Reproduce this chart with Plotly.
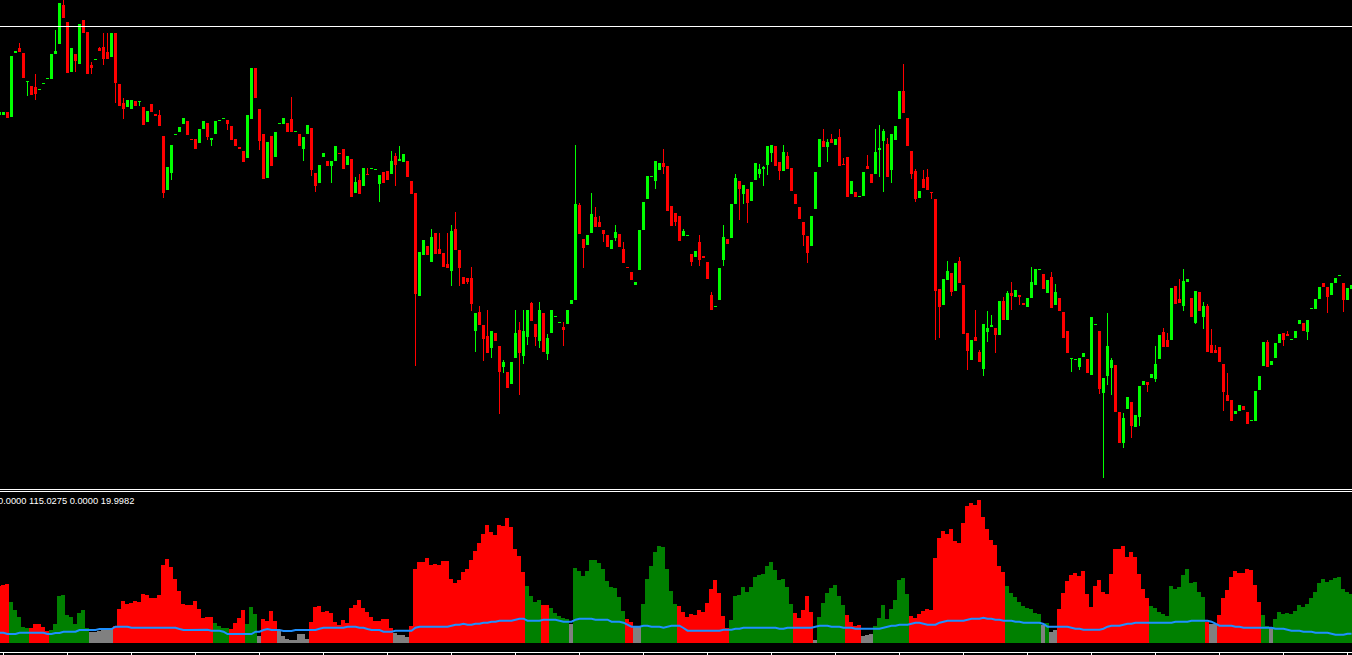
import plotly.graph_objects as go

# ---------------- data (price units) ----------------
open_ = [
    385,385,388,383,447,452,447,418,414,413, 410,416,421,421,446,456,495,478,428,446,
    436,480,468,435,440,452,453,448,443,467, 416,397,393,391,399,398,393,378,396,386,
    385,364,310,327,365,368,376,379,361,361, 357,371,377,360,366,379,381,380,374,361,
    353,349,342,381,432,391,366,322,364,343, 376,376,377,381,368,366,351,366,372,327,
    317,343,339,334,339,347,351,335,341,307, 320,314,326,331,330,316,328,329,326,344,
    339,338,339,319,307,204,245,254,238,267, 251,247,236,229,271,250,223,222,222,169,
    188,175,164,152,167,154,133,128,116,142, 170,144,163,197,176,159,187,146,167,183,
    177,173,176,196,200,295,261,255,267,283, 278,270,265,251,262,266,251,233,228,215,
    230,270,301,323,319,330,337,334,294,287, 284,264,264,246,243,258,244,238,205,193,
    200,240,261,262,296,319,306,311,299,320, 326,331,335,347,354,338,329,344,332,306,
    293,278,264,254,291,333,359,353,361,355, 363,336,343,306,308,303,304,334,326,326,
    350,359,356,330,360,381,409,382,349,329, 302,321,323,308,301,211,195,220,227,209,
    239,215,167,140,163,148,131,168,173,172, 165,199,180,207,203,205,197,193,202,215,
    230,226,207,223,195,202,188,169,141,140, 133,143,141,125,175,169,107,124,132,135,
    88,57,91,98,73,83,115,118,122,121, 141,168,160,160,214,201,194,218,202,177,
    208,183,194,155,150,153,136,105,100,86, 89,94,88,79,79,110,134,158,135,142,
    157,167,166,160,162,176,177,168,191,191, 201,217,213,205,217,224,217,200,211,
]
high_ = [
    388,388,388,444,449,457,447,419,414,426, 411,417,422,446,470,497,500,478,452,446,
    476,480,468,438,441,453,467,467,467,467, 416,402,400,400,399,399,393,389,396,386,
    390,364,333,355,366,373,382,379,361,361, 371,379,377,362,379,380,382,380,374,361,
    353,349,385,432,432,391,366,358,364,368, 377,382,377,403,369,366,363,375,372,327,
    335,347,339,339,354,347,351,344,341,323, 326,332,332,332,331,325,328,329,349,347,
    354,346,339,319,307,248,260,254,271,267, 267,247,267,275,288,250,223,222,233,187,
    194,175,190,169,167,154,140,128,138,190, 178,190,190,198,176,198,187,166,190,184,
    178,178,190,200,355,297,261,265,307,293, 284,270,265,260,275,266,258,233,228,218,
    270,298,324,324,339,337,351,334,294,287, 284,271,265,246,249,265,244,238,208,194,
    232,275,261,296,326,319,315,311,318,337, 336,334,354,355,354,338,355,348,332,306,
    293,278,264,284,328,361,371,361,366,361, 371,342,343,319,308,304,328,345,326,371,
    375,371,362,366,374,409,436,382,349,331, 309,330,331,308,301,211,221,239,227,237,
    243,215,167,160,190,150,176,189,185,172, 199,203,209,218,210,205,197,202,233,231,
    231,226,220,228,216,202,188,169,142,141, 142,147,141,183,176,169,122,187,142,135,
    88,87,103,98,85,114,119,118,126,154, 165,172,167,212,214,221,231,221,202,209,
    208,198,196,171,155,153,136,127,100,89, 95,94,88,80,109,124,158,160,139,157,
    166,167,169,161,169,180,177,180,192,201, 213,217,213,217,222,225,217,212,215,
]
low_ = [
    385,385,382,383,447,448,422,404,405,400, 410,416,421,421,446,456,482,427,428,428,
    436,467,426,426,440,449,435,441,443,397, 394,381,393,391,394,394,375,378,388,384,
    374,302,310,320,365,368,376,365,360,351, 357,371,360,354,366,379,381,370,360,354,
    351,338,342,381,402,350,321,322,334,343, 376,376,368,368,368,354,339,366,324,308,
    317,343,334,317,339,346,331,335,303,307, 306,314,325,331,330,298,317,320,326,314,
    339,338,323,306,134,204,245,245,238,246, 246,233,232,214,250,214,216,216,189,148,
    175,139,147,142,159,86,127,112,116,142, 105,136,155,179,154,152,148,140,167,183,
    177,154,176,196,200,266,232,255,267,273, 273,258,253,251,259,253,237,232,220,215,
    230,270,301,323,311,330,326,289,274,274, 259,264,264,234,243,234,242,221,190,193,
    200,234,256,262,296,280,296,277,299,320, 322,314,325,338,334,320,329,331,309,296,
    281,254,237,254,291,333,353,338,357,355, 334,335,303,306,303,303,304,331,317,326,
    323,308,323,317,360,381,387,354,321,298, 302,312,310,301,160,162,195,220,204,209,
    217,166,130,140,159,138,124,158,173,147, 165,180,180,190,203,195,195,193,202,215,
    230,211,207,192,195,189,162,147,128,140, 130,143,127,125,175,106,22,115,105,88,
    57,52,91,62,73,74,115,108,122,118, 141,153,153,160,196,197,189,218,183,176,
    189,171,148,147,147,138,89,99,79,86, 89,90,76,79,79,110,134,133,135,142,
    157,154,164,160,162,176,169,160,191,191, 201,213,187,205,217,224,188,200,211,
]
close_ = [
    388,388,382,444,449,448,422,419,405,406, 411,417,422,446,449,497,482,427,452,439,
    476,467,426,432,441,449,441,441,467,417, 394,391,400,400,394,399,375,389,388,384,
    374,307,333,355,366,373,382,365,360,351, 371,379,363,362,379,380,382,376,360,354,
    351,338,385,432,402,359,321,358,334,368, 377,382,368,368,369,354,363,375,330,314,
    335,347,334,339,354,346,331,344,303,318, 306,332,325,332,331,325,317,320,339,335,
    341,346,323,306,206,248,260,245,263,246, 246,233,232,269,250,232,216,218,196,187,
    175,161,147,169,159,128,138,112,138,167, 147,169,190,179,163,190,148,162,190,184,
    178,170,190,200,296,266,252,265,286,273, 273,266,253,260,268,253,237,232,220,218,
    270,298,324,324,339,337,333,289,274,278, 259,269,265,238,249,240,242,221,190,194,
    232,263,256,296,322,311,315,297,318,337, 331,333,354,355,334,329,348,331,309,296,
    281,265,247,284,328,361,353,358,357,361, 334,335,303,319,303,304,328,331,317,348,
    352,369,323,366,374,409,387,354,326,301, 309,312,310,307,209,193,221,229,208,237,
    217,166,149,160,159,138,176,172,175,165, 199,180,207,204,210,203,195,202,218,231,
    231,211,220,192,208,189,162,147,142,141, 142,147,127,183,176,111,122,154,140,88,
    57,82,103,74,85,114,119,115,126,136, 165,153,153,212,196,197,219,221,183,209,
    189,194,148,147,147,138,108,99,79,89, 95,90,76,80,109,124,158,133,139,157,
    166,160,164,161,169,180,169,180,192,201, 213,213,203,217,222,225,200,212,215,
]

# lower indicator: histogram values, their state (R = red, G = green, N = neutral) and the blue average
hist_ = [
    57,58,59,41,33,26,16,15,15,19, 19,16,12,13,19,47,48,28,26,19,
    30,33,15,11,11,12,13,13,14,17, 34,42,39,40,42,41,49,48,45,45,
    48,78,84,76,64,52,39,38,38,42, 34,25,26,26,20,17,15,15,14,20,
    25,33,19,36,29,7,24,22,32,22, 12,7,4,3,3,9,9,4,21,36,
    37,31,32,30,21,18,23,20,35,38, 43,35,31,26,22,22,24,24,15,10,
    8,8,6,17,74,81,81,85,78,79, 78,82,82,64,60,63,71,74,83,92,
    100,109,118,111,108,118,117,125,116,94, 87,71,57,47,41,43,38,38,35,30,
    27,25,24,19,75,72,67,72,83,83, 80,74,62,56,55,46,32,24,21,17,
    17,39,64,77,91,97,96,74,52,39, 37,31,26,29,28,33,31,40,54,63,
    50,27,15,23,47,48,56,51,56,66, 68,69,77,81,73,63,64,56,39,30,
    25,33,47,31,3,26,40,50,55,58, 47,38,28,21,17,18,7,8,9,17,
    25,38,24,34,43,63,65,49,27,25, 29,32,34,33,85,105,112,109,114,102,
    100,120,137,140,138,143,126,114,103,98, 77,71,57,50,46,41,37,35,34,30,
    29,18,20,11,13,34,50,62,68,70, 67,72,49,36,57,63,51,49,69,94,
    94,97,86,91,86,69,54,45,37,35, 31,29,27,57,54,56,68,74,60,61,
    51,46,21,19,19,28,45,53,66,72, 70,70,74,73,58,41,28,17,16,24,
    31,29,30,29,32,38,36,39,45,51, 60,64,61,63,65,66,54,51,49,
]
hist_state = "".join([
    "RRRGGGGGRR", "RRRGGGGGGG", "GGGNNNNNNR", "RRRRRRRRRR", "RRRRRRRRRR",
    "RRRRGGGGRR", "RRGGGNRRRR", "NNNNNNNNRR", "RRRRRRRRRR", "RRRRRRRRRN",
    "NNNRRRRRRR", "RRRRRRRRRR", "RRRRRRRRRR", "RRGGGGRRGG", "GGGNGGGGGG",
    "GGGGGGGRRN", "NGGGGGGGGG", "RRRRRRRRRR", "RRRGGGGGGG", "GGGGGGGGGR",
    "RRRRNGGGGG", "GGRRRRNNNG", "GGGGGGGGRR", "RRRRRRRRRR", "RRRRRRRRRR",
    "RRGGGGGGGG", "GNGNNRRRRR", "RRRRRRRRRR", "RRRRRRRRGG", "GGGGGGGGGG",
    "GGRNNRRRRR", "RRRRRRGGNG", "GGGGGGGGGG", "GGGGGGGGG",
])
ma_ = [
    10.3,10.3,9,9,9,10.3,10.3,10.3,10.3,10.3, 10.3,10.3,9,9,10,10,11.3,11.3,11.3,11.3,
    13,13,13,13,13,14,14,14,14,16.3, 16.3,16.3,16.3,15.3,15.3,15.3,15.3,15.3,15.3,15.3,
    15.3,15.3,15.3,15.3,15.3,14,13,13,13,13, 13,13.3,13.3,12.3,12.3,12.3,11.3,9,9,9,
    9,9,9,9,11.3,11.3,13,14,13,13, 13,12,12,12,13,13,13,13,13,13,
    14.3,15.3,15.3,15.3,15.3,15.3,15.3,16.3,16.3,16.3, 15.3,15.3,14,13,13,13,11.3,11.3,11.3,12.3,
    12.3,12.3,12.3,12.3,15.3,16.3,16.3,16.3,16.3,16.3, 16.3,16.3,16.3,17.3,18.3,18.3,19.3,18.3,18.3,19.3,
    19.3,20.3,20.3,21.3,21.3,22.3,22.3,22.3,22.3,23.3, 24.3,24.3,22.3,22.3,22.3,22.3,23.3,23.3,23.3,23.3,
    22.3,21.3,21.3,21.3,23.3,24.3,24.3,24.3,24.3,23.3, 23.3,23.3,23.3,21.3,21.3,21.3,20.3,18.3,16.3,16.3,
    16.3,17.3,17.3,16.3,16.3,16.3,15.3,16.3,17.3,17.3, 17.3,15,12.3,12.3,12.3,12.3,12.3,12.3,12.3,12.3,
    12.3,13.3,13.3,13.3,14.3,14.3,15.3,15.3,15.3,15.3, 15.3,15.3,15.3,15.3,15.3,14.3,14.3,15.3,15.3,15.3,
    15.3,15.3,15.3,15.3,16.3,17.3,17.3,17.3,16.3,16.3, 16.3,15.3,15.3,15.3,14.3,14.3,14.3,14.3,14.3,14.3,
    14.3,15.3,16.3,17.3,17.3,18.3,18.3,18.3,19.3,20.3, 20.3,19.3,18.3,18.3,18.3,20.3,21.3,22.3,22.3,22.3,
    22.3,22.3,23.3,24.3,24.3,24.3,25.3,24.3,24.3,23.3, 23.3,22.3,22.3,22.3,21.3,21.3,20.3,20.3,20.3,20.3,
    20.3,19,16.3,16.3,16.3,16.3,16.3,16.3,15.3,14.3, 14.3,13.3,13.3,13.3,13.3,13.3,14.3,16.3,17.3,17.3,
    17.3,18.3,19.3,19.3,20.3,20.3,20.3,20.3,20.3,20.3, 20.3,20.3,20.3,20.3,21.3,21.3,21.3,21.3,22.3,22.3,
    22.3,22.3,22.3,21.3,19.3,17.3,17.3,17.3,17.3,16.3, 16.3,15.3,15.3,15.3,15.3,15.3,15.3,15.3,15.3,14.3,
    14.3,14.3,13.3,12.3,12.3,12.3,11.3,11.3,11.3,10.3, 10.3,10.3,10.3,9.3,8.3,8.3,8.3,9.3,9.3,
]
level_price = 473.5
label_text = "0.0000 115.0275 0.0000 19.9982"
tick_bars = list(range(1, 339, 16))

# ---------------- figure ----------------
W, H = 1352, 655
n = len(open_)
idx = list(range(n))

up = [c > o for o, c in zip(open_, close_)]
candle_col = ["#00FF00" if u else "#FF0000" for u in up]
body_base = [min(o, c) for o, c in zip(open_, close_)]
body_len = [max(abs(c - o), 1) for o, c in zip(open_, close_)]
wick_len = [max(h - l, 1) for h, l in zip(high_, low_)]

state_col = {"R": "#FF0000", "G": "#008000", "N": "#808080"}
hist_col = [state_col[s] for s in hist_state]

fig = go.Figure()
fig.add_trace(go.Bar(x=idx, y=wick_len, base=low_, width=0.25,
                     marker=dict(color=candle_col, line=dict(width=0)),
                     xaxis="x", yaxis="y", hoverinfo="skip"))
fig.add_trace(go.Bar(x=idx, y=body_len, base=body_base, width=0.75,
                     marker=dict(color=candle_col, line=dict(width=0)),
                     xaxis="x", yaxis="y", hoverinfo="skip"))
fig.add_trace(go.Bar(x=idx, y=hist_, width=1.0, offset=-0.625,
                     marker=dict(color=hist_col, line=dict(width=0)),
                     xaxis="x2", yaxis="y2", hoverinfo="skip"))
fig.add_trace(go.Scatter(x=idx, y=ma_, mode="lines",
                         line=dict(color="#1E90FF", width=2),
                         xaxis="x2", yaxis="y2", hoverinfo="skip"))

xr = [0.125, 338.125]
main_dom = [1 - 488 / H, 1]
sub_dom = [1 - 643 / H, 1 - 491 / H]

ax = dict(visible=False, showgrid=False, zeroline=False, fixedrange=True)
fig.update_layout(
    width=W, height=H,
    margin=dict(l=0, r=0, t=0, b=0),
    paper_bgcolor="#000000", plot_bgcolor="#000000",
    showlegend=False, barmode="overlay", bargap=0,
    xaxis=dict(ax, range=xr, domain=[0, 1], anchor="y"),
    yaxis=dict(ax, range=[12, 500], domain=main_dom, anchor="x"),
    xaxis2=dict(ax, range=xr, domain=[0, 1], anchor="y2"),
    yaxis2=dict(ax, range=[0, 152], domain=sub_dom, anchor="x2"),
)

shapes = []
# price level line in main window
shapes.append(dict(type="line", xref="paper", yref="y", x0=0, x1=1,
                   y0=level_price, y1=level_price, line=dict(color="#FFFFFF", width=1)))
# window separators
for py in (489.5, 491.5):
    yy = 1 - py / H
    shapes.append(dict(type="line", xref="paper", yref="paper", x0=0, x1=1,
                       y0=yy, y1=yy, line=dict(color="#FFFFFF", width=1)))
# bottom time-scale line and ticks
yb = 1 - 652.5 / H
shapes.append(dict(type="line", xref="paper", yref="paper", x0=0, x1=1,
                   y0=yb, y1=yb, line=dict(color="#FFFFFF", width=1)))
for t in tick_bars:
    shapes.append(dict(type="line", xref="x", yref="paper", x0=t, x1=t,
                       y0=yb, y1=0, line=dict(color="#FFFFFF", width=1)))
fig.update_layout(shapes=shapes)

fig.add_annotation(text=label_text, xref="paper", yref="paper",
                   x=-3 / W, y=1 - 494.5 / H, xanchor="left", yanchor="top",
                   showarrow=False, borderpad=0,
                   font=dict(family="Liberation Sans", size=9.3, color="#FFFFFF"))

fig.write_html("out.html",
               config={"displayModeBar": False, "staticPlot": True},
               post_script="document.body.style.margin='0px';"
                           "document.body.style.overflow='hidden';"
                           "document.body.style.background='#000000';")
